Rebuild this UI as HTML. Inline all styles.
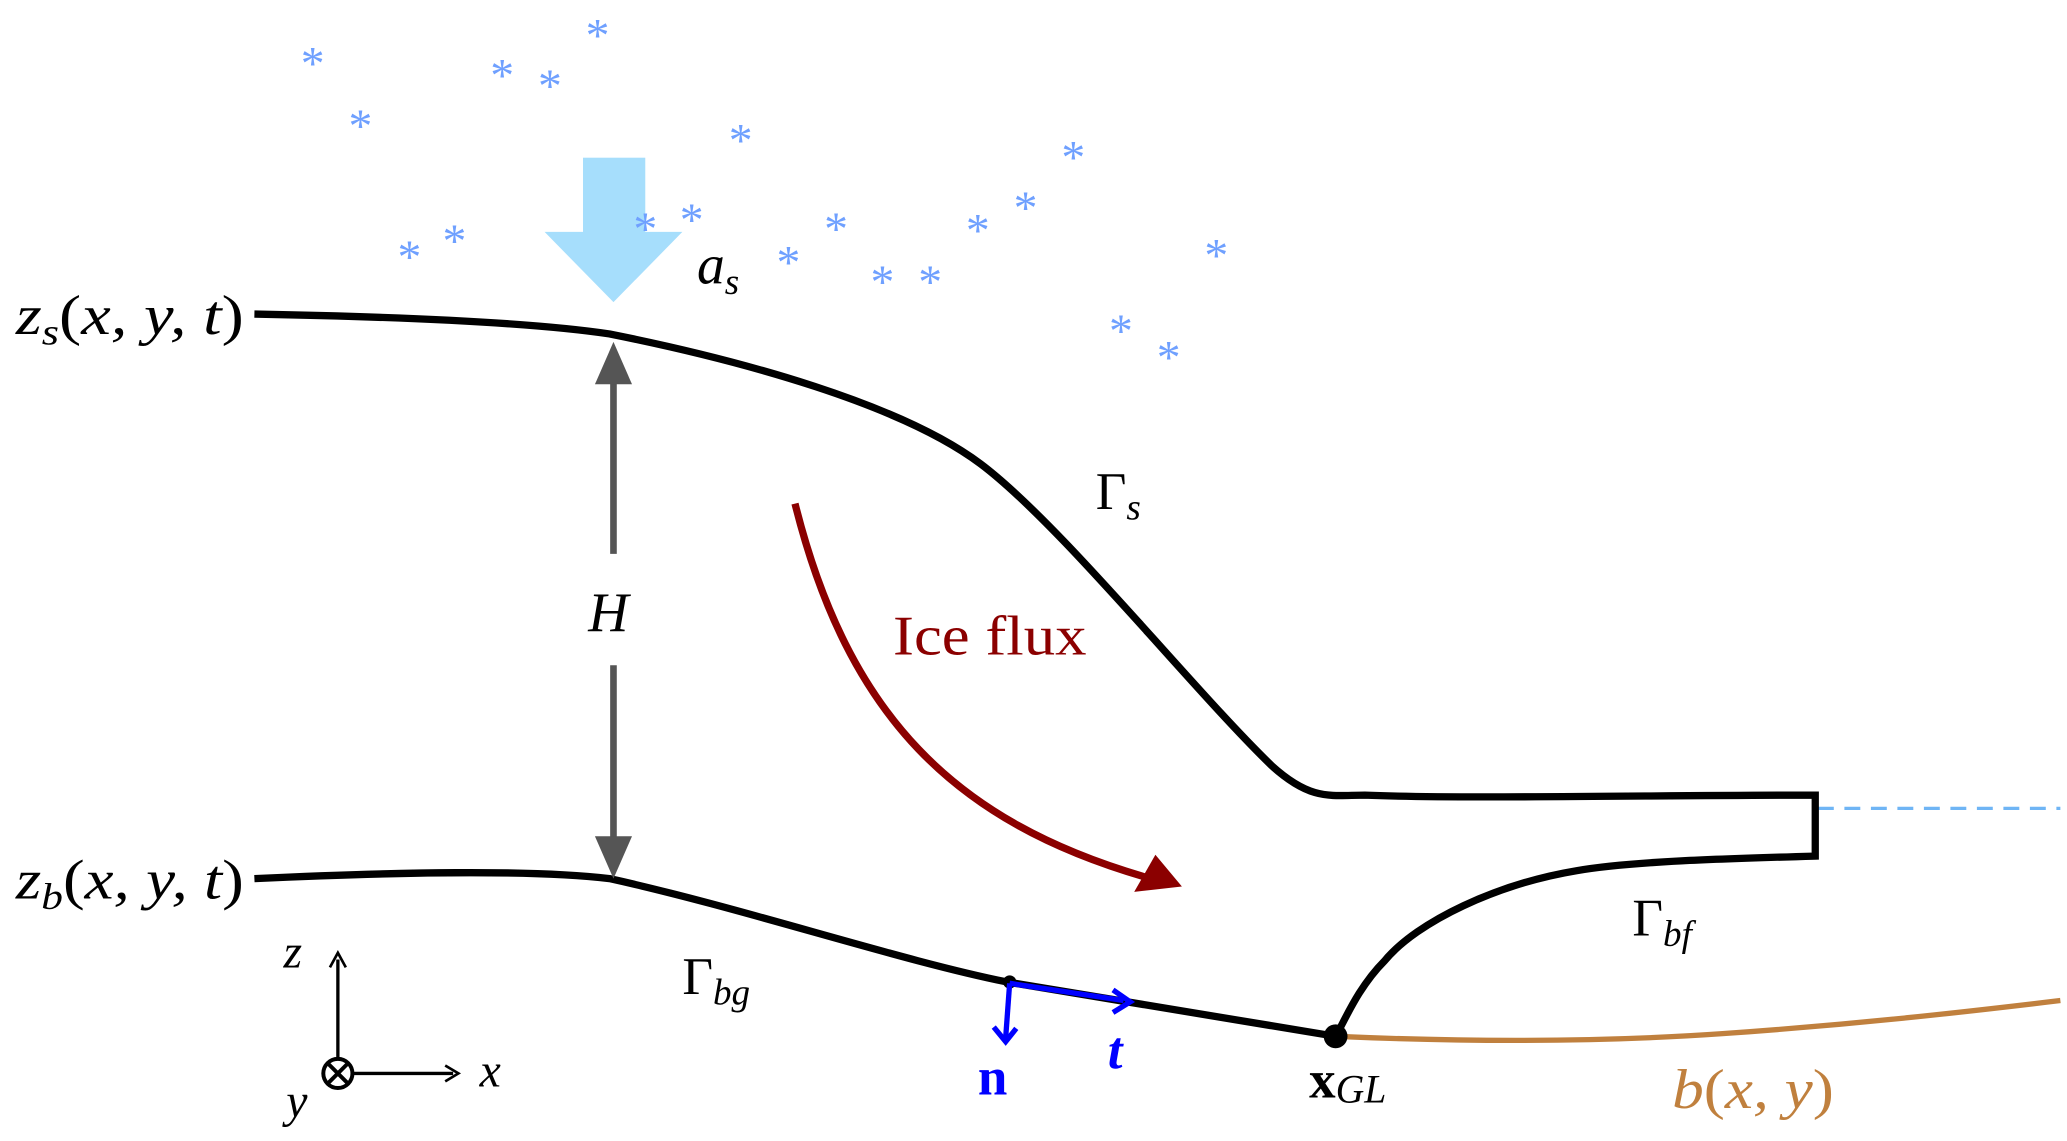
<!DOCTYPE html>
<html><head><meta charset="utf-8"><style>
html,body{margin:0;padding:0;background:#fff;}
svg{display:block;}
text{font-family:"Liberation Serif",serif;}
</style></head><body>
<svg width="2067" height="1141" viewBox="0 0 1560 861" preserveAspectRatio="none" xmlns="http://www.w3.org/2000/svg">
<rect x="440" y="119" width="47" height="57" fill="#a6defc"/>
<polygon points="411,175 515,175 463,228" fill="#a6defc"/>
<g fill="#6fa0ff" font-size="36" text-anchor="middle" font-family="Liberation Sans,sans-serif">
<text x="236" y="60">*</text><text x="272" y="107">*</text><text x="379" y="69">*</text><text x="415" y="77">*</text><text x="451" y="39">*</text><text x="559" y="118">*</text><text x="309" y="206">*</text><text x="343" y="194">*</text><text x="487" y="185">*</text><text x="522" y="178">*</text><text x="595" y="210">*</text><text x="631" y="185">*</text><text x="666" y="225">*</text><text x="702" y="225">*</text><text x="738" y="186">*</text><text x="774" y="169">*</text><text x="810" y="131">*</text><text x="918" y="205">*</text><text x="846" y="262">*</text><text x="882" y="282">*</text>
</g>
<path d="M760,741 L1008,782 C1100,786 1200,787 1300,780 C1400,773 1480,764 1555,755" fill="none" stroke="#c0803e" stroke-width="4"/>
<line x1="1372" y1="610" x2="1555" y2="610" stroke="#6fb5f5" stroke-width="2.5" stroke-dasharray="12,8"/>
<path d="M192,237 C300,239 400,243 460,252 C560,272 680,305 740,350 C800,395 900,520 960,578 C990,605 1005,600 1030,600 C1100,603 1250,600 1370,600 L1370,646 C1300,648 1230,650 1190,657 C1130,667 1070,695 1045,725 C1025,745 1015,770 1008,782" fill="none" stroke="#000" stroke-width="5.5"/>
<path d="M192,663 C300,658 400,656 460,663 C560,685 680,725 760,741 L1008,782" fill="none" stroke="#000" stroke-width="5.5"/>
<circle cx="1008" cy="782" r="9" fill="#000"/>
<line x1="463" y1="285" x2="463" y2="418" stroke="#555" stroke-width="5"/>
<polygon points="449,290 477,290 463,258" fill="#555"/>
<line x1="463" y1="502" x2="463" y2="635" stroke="#555" stroke-width="5"/>
<polygon points="449,631 477,631 463,663" fill="#555"/>
<path d="M600,380 C640,540 720,620 865,662" fill="none" stroke="#8b0000" stroke-width="5.5"/>
<polygon points="892,669 856,673 872,645" fill="#8b0000"/>
<circle cx="762" cy="741" r="5" fill="#000"/>
<line x1="762" y1="742" x2="848" y2="755" stroke="#0000ff" stroke-width="4"/>
<path d="M840,747 L853,756 L840,764" fill="none" stroke="#0000ff" stroke-width="4"/>
<line x1="762" y1="742" x2="759" y2="783" stroke="#0000ff" stroke-width="4"/>
<path d="M750,775 L759,786 L767,776" fill="none" stroke="#0000ff" stroke-width="4"/>
<line x1="255" y1="798" x2="255" y2="724" stroke="#000" stroke-width="2.5"/>
<path d="M249,730 L255,719 L261,730" fill="none" stroke="#000" stroke-width="2"/>
<line x1="267" y1="810" x2="342" y2="810" stroke="#000" stroke-width="2.5"/>
<path d="M336,804 L346,810 L336,816" fill="none" stroke="#000" stroke-width="2"/>
<circle cx="255" cy="810" r="11" fill="none" stroke="#000" stroke-width="3"/>
<path d="M248,803 L262,817 M262,803 L248,817" stroke="#000" stroke-width="3"/>
<g font-size="42" font-style="italic" fill="#000">
<text x="12" y="252" textLength="172" lengthAdjust="spacingAndGlyphs">z<tspan font-size="28" dy="8">s</tspan><tspan dy="-8" font-style="normal">(</tspan>x, y, t<tspan font-style="normal">)</tspan></text>
<text x="12" y="678" textLength="172" lengthAdjust="spacingAndGlyphs">z<tspan font-size="28" dy="8">b</tspan><tspan dy="-8" font-style="normal">(</tspan>x, y, t<tspan font-style="normal">)</tspan></text>
<text x="526" y="214">a<tspan font-size="28" dy="8">s</tspan></text>
<text x="444" y="476">H</text>
<text x="214" y="730" font-size="36">z</text>
<text x="362" y="820" font-size="36">x</text>
<text x="216" y="843" font-size="36">y</text>
</g>
<g font-size="40" fill="#000">
<text x="827" y="384">Γ<tspan font-size="28" dy="8" font-style="italic">s</tspan></text>
<text x="515" y="750">Γ<tspan font-size="28" dy="8" font-style="italic">bg</tspan></text>
<text x="1232" y="706">Γ<tspan font-size="28" dy="8" font-style="italic">bf</tspan></text>
<text x="988" y="828" font-weight="bold">x<tspan font-size="30" dy="4" font-style="italic" font-weight="normal">GL</tspan></text>
</g>
<text x="674" y="494" font-size="42" fill="#8b0000" textLength="146" lengthAdjust="spacingAndGlyphs">Ice flux</text>
<text x="738" y="826" font-size="40" font-weight="bold" fill="#0000ff">n</text>
<text x="836" y="806" font-size="40" font-weight="bold" font-style="italic" fill="#0000ff">t</text>
<text x="1262" y="836" font-size="42" font-style="italic" fill="#c0803e" textLength="122" lengthAdjust="spacingAndGlyphs">b<tspan font-style="normal">(</tspan>x, y<tspan font-style="normal">)</tspan></text>
</svg>
</body></html>
